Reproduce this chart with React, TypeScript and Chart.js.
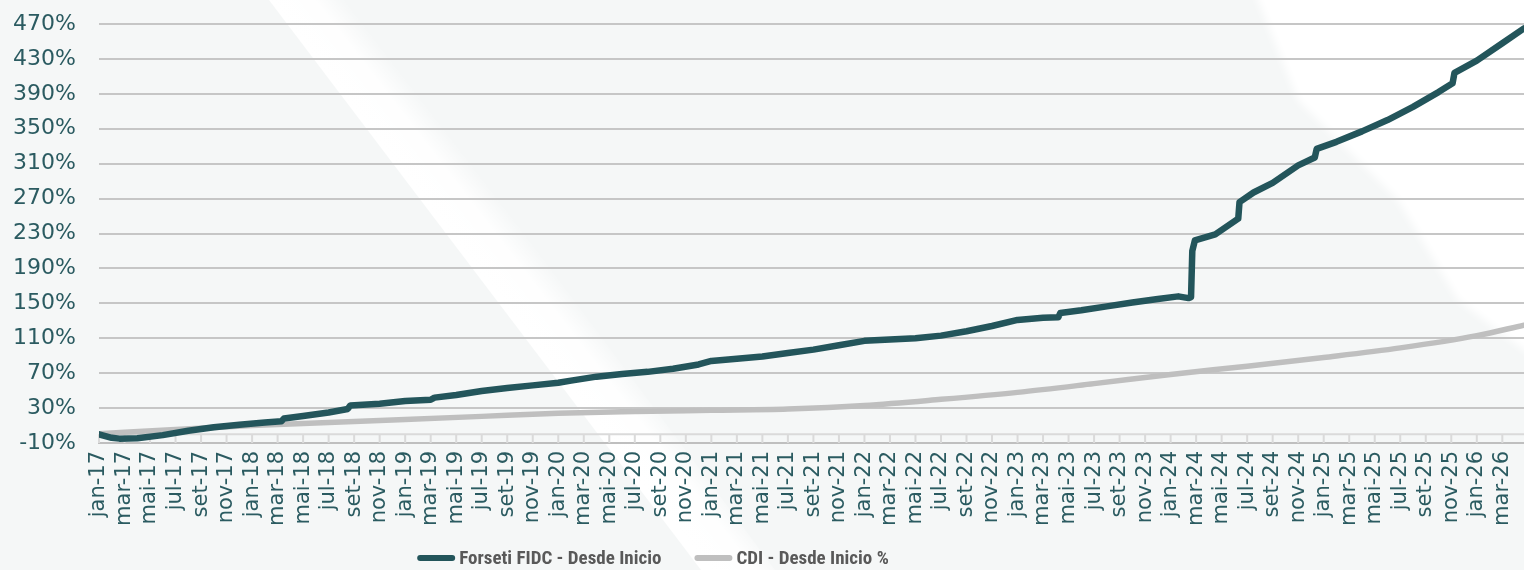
import React, { useEffect, useRef } from 'react';
import { Chart, registerables } from 'chart.js';

Chart.register(...registerables);

// Tick labels on the horizontal axis (one every two months)
const xTickLabels = [
  'jan-17', 'mar-17', 'mai-17', 'jul-17', 'set-17', 'nov-17',
  'jan-18', 'mar-18', 'mai-18', 'jul-18', 'set-18', 'nov-18',
  'jan-19', 'mar-19', 'mai-19', 'jul-19', 'set-19', 'nov-19',
  'jan-20', 'mar-20', 'mai-20', 'jul-20', 'set-20', 'nov-20',
  'jan-21', 'mar-21', 'mai-21', 'jul-21', 'set-21', 'nov-21',
  'jan-22', 'mar-22', 'mai-22', 'jul-22', 'set-22', 'nov-22',
  'jan-23', 'mar-23', 'mai-23', 'jul-23', 'set-23', 'nov-23',
  'jan-24', 'mar-24', 'mai-24', 'jul-24', 'set-24', 'nov-24',
  'jan-25', 'mar-25', 'mai-25', 'jul-25', 'set-25', 'nov-25',
  'jan-26', 'mar-26',
];

// Months elapsed since jan-17 (time position of each observation)
const forsetiMonths = [
  0, 1.0, 1.6, 3, 5, 7, 9, 11, 13,
  14.3, 14.5, 16, 18, 19.5, 19.7, 22, 24, 26, 26.3,
  28, 30, 32, 34, 36, 37, 39, 41, 43, 45,
  47, 48, 50, 52, 54, 56, 58, 60, 62, 64,
  66, 68, 70, 72, 74, 75.2, 75.35, 77, 79, 81,
  83, 84.6, 85.4, 85.6, 85.7, 85.9, 87.5, 89.3, 89.4, 90.5,
  92, 94, 95.3, 95.45, 97, 99, 101, 103, 105, 106.1,
  106.25, 108, 110, 111.7,
];
// Forseti FIDC cumulative return (%)
const forsetiValues = [
  0, -4, -5, -4.5, -1, 4, 8, 11, 13.5,
  15, 18, 21, 25, 29, 33, 35, 38, 39.5, 42,
  45, 49.5, 53, 56, 59, 61.5, 66, 69, 71.5, 75,
  80, 84, 86.5, 89, 93, 97, 102, 107, 108.5, 110,
  113, 118, 124, 131, 133.5, 134, 139, 142, 146.5, 151,
  155, 158, 156, 157, 210, 222, 229, 247, 266, 277,
  288, 308, 317, 327, 335, 347, 360, 375, 392, 402,
  414, 428, 448, 465,
];

const cdiMonths = [0, 6, 12, 18, 24, 30, 36, 42, 48, 54, 60, 66, 72, 78, 84, 90, 96, 102, 108, 111.7];
// CDI cumulative return (%)
const cdiValues = [0.5, 5.5, 10, 13.5, 17, 20.5, 24, 26, 27.5, 29, 33, 40, 48, 58, 68.5, 78, 88, 99, 113, 125];

const seriesNames = ['Forseti FIDC - Desde Inicio', 'CDI - Desde Inicio %'];
const seriesColors = ['#23555B', '#BFBFBF'];
const yMin = -10;
const yMax = 470;
const yStep = 40;
const xMax = 111.7;

const tickColor = '#2B5B61';
const tickFont = '"DejaVu Sans", sans-serif';
const legendFont = 'bold 19px "Liberation Sans Narrow", "Roboto Condensed", "Liberation Sans", sans-serif';

const decorPlugin = {
  id: 'decor',
  beforeDraw(chart: any) {
    const { ctx, width, height } = chart;
    ctx.save();
    ctx.fillStyle = '#F5F7F7';
    ctx.fillRect(0, 0, width, height);

    // diagonal light stripe
    const g = ctx.createLinearGradient(269, 0, 317, -37);
    g.addColorStop(0, 'rgba(255,255,255,1)');
    g.addColorStop(0.6, 'rgba(255,255,255,0.9)');
    g.addColorStop(1, 'rgba(255,255,255,0)');
    ctx.fillStyle = g;
    ctx.beginPath();
    ctx.moveTo(269, 0);
    ctx.lineTo(350, 0);
    ctx.lineTo(775, height);
    ctx.lineTo(701, height);
    ctx.closePath();
    ctx.fill();

    // light region top-right
    ctx.filter = 'blur(4px)';
    ctx.fillStyle = '#FFFFFF';
    ctx.beginPath();
    ctx.moveTo(1250, -20);
    ctx.lineTo(width + 20, -20);
    ctx.lineTo(width + 20, 365);
    ctx.lineTo(1458, 300);
    ctx.lineTo(1398, 200);
    ctx.lineTo(1298, 100);
    ctx.closePath();
    ctx.fill();
    ctx.filter = 'none';
    ctx.restore();
  },
  beforeDatasetsDraw(chart: any) {
    const { ctx, chartArea, scales } = chart;
    const y0 = scales.y.getPixelForValue(0);
    const yb = scales.y.getPixelForValue(yMin);
    ctx.save();
    ctx.strokeStyle = '#DADADA';
    ctx.lineWidth = 2;
    ctx.beginPath();
    ctx.moveTo(chartArea.left, y0);
    ctx.lineTo(chartArea.right, y0);
    xTickLabels.forEach((_, i) => {
      const x = scales.x.getPixelForValue(i * 2);
      ctx.moveTo(x, y0);
      ctx.lineTo(x, yb);
    });
    ctx.stroke();
    ctx.restore();
  },
  afterDraw(chart: any) {
    const { ctx } = chart;
    ctx.save();
    ctx.font = legendFont;
    ctx.textBaseline = 'middle';
    ctx.textAlign = 'left';
    const markerW = 38;
    const textGap = 4;
    const itemGap = 33;
    const items = chart.data.datasets.map((ds: any) => ({
      text: ds.label,
      color: ds.borderColor,
      w: ctx.measureText(ds.label).width,
    }));
    const total = items.reduce((s: number, it: any) => s + markerW + textGap + it.w, 0) + itemGap * (items.length - 1);
    let x = 653 - total / 2;
    const y = 558;
    items.forEach((it: any) => {
      ctx.strokeStyle = it.color;
      ctx.lineWidth = 6;
      ctx.lineCap = 'round';
      ctx.beginPath();
      ctx.moveTo(x + 3, y);
      ctx.lineTo(x + markerW - 3, y);
      ctx.stroke();
      ctx.fillStyle = '#595959';
      ctx.fillText(it.text, x + markerW + textGap, y + 1);
      x += markerW + textGap + it.w + itemGap;
    });
    ctx.restore();
  },
};

export default function App() {
  const canvasRef = useRef<HTMLCanvasElement | null>(null);

  useEffect(() => {
    document.body.style.margin = '0';
    const canvas = canvasRef.current;
    if (!canvas) return;

    const forsetiData = forsetiMonths.map((m, i) => ({ x: m, y: forsetiValues[i] }));
    const cdiData = cdiMonths.map((m, i) => ({ x: m, y: cdiValues[i] }));

    const chart = new Chart(canvas, {
      type: 'line',
      data: {
        datasets: [
          {
            label: seriesNames[0],
            data: forsetiData,
            borderColor: seriesColors[0],
            backgroundColor: seriesColors[0],
            borderWidth: 6.5,
            pointRadius: 0,
            tension: 0,
            borderCapStyle: 'round',
            borderJoinStyle: 'round',
          },
          {
            label: seriesNames[1],
            data: cdiData,
            borderColor: seriesColors[1],
            backgroundColor: seriesColors[1],
            borderWidth: 5.5,
            pointRadius: 0,
            cubicInterpolationMode: 'monotone',
            borderCapStyle: 'round',
          },
        ],
      },
      options: {
        responsive: false,
        animation: false,
        events: [],
        devicePixelRatio: 1,
        layout: { padding: { top: 24, left: 0, right: 0, bottom: 30 } },
        scales: {
          x: {
            type: 'linear',
            min: 0,
            max: xMax,
            afterBuildTicks: (axis: any) => {
              axis.ticks = xTickLabels.map((_, i) => ({ value: i * 2 }));
            },
            afterFit: (axis: any) => {
              axis.height = 97;
              axis.paddingLeft = 0;
              axis.paddingRight = 0;
            },
            grid: { display: false, drawTicks: false },
            border: { display: true, color: '#BFBFBF', width: 2 },
            ticks: {
              autoSkip: false,
              maxRotation: 90,
              minRotation: 90,
              padding: 8,
              color: tickColor,
              font: { family: tickFont, size: 21 },
              callback: (v: any) => xTickLabels[Math.round(Number(v) / 2)] ?? '',
            },
          },
          y: {
            min: yMin,
            max: yMax,
            afterFit: (axis: any) => {
              axis.width = 99;
              axis.paddingTop = 0;
              axis.paddingBottom = 0;
            },
            grid: { color: '#C6C6C6', lineWidth: 2, drawTicks: false },
            border: { display: false },
            ticks: {
              stepSize: yStep,
              padding: 23,
              color: tickColor,
              font: { family: tickFont, size: 22 },
              callback: (v: any) => `${v}%`,
            },
          },
        },
        plugins: {
          tooltip: { enabled: false },
          legend: { display: false },
        },
      },
      plugins: [decorPlugin],
    } as any);

    return () => chart.destroy();
  }, []);

  return (
    <div style={{ width: 1524, height: 570 }}>
      <canvas ref={canvasRef} width={1524} height={570} style={{ display: 'block' }} />
    </div>
  );
}
